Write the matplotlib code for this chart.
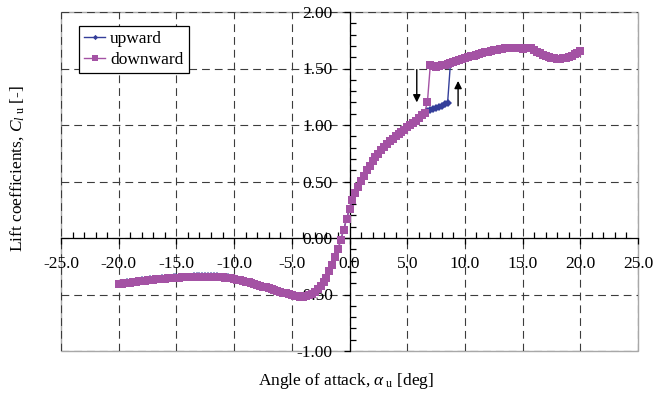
import matplotlib
matplotlib.use("Agg")
import matplotlib.pyplot as plt
from matplotlib.ticker import MultipleLocator, FuncFormatter
from matplotlib.patches import Rectangle

plt.rcParams['font.family'] = ['Liberation Serif', 'DejaVu Serif']
plt.rcParams['mathtext.fontset'] = 'custom'
plt.rcParams['mathtext.rm'] = 'Liberation Serif'
plt.rcParams['mathtext.it'] = 'Liberation Serif:italic'

# ---------------- data ----------------
alpha_lower = [
    -20.0, -19.75, -19.5, -19.25, -19.0, -18.75, -18.5, -18.25, -18.0, -17.75,
    -17.5, -17.25, -17.0, -16.75, -16.5, -16.25, -16.0, -15.75, -15.5, -15.25,
    -15.0, -14.75, -14.5, -14.25, -14.0, -13.75, -13.5, -13.25, -13.0, -12.75,
    -12.5, -12.25, -12.0, -11.75, -11.5, -11.25, -11.0, -10.75, -10.5, -10.25,
    -10.0, -9.75, -9.5, -9.25, -9.0, -8.75, -8.5, -8.25, -8.0, -7.75,
    -7.5, -7.25, -7.0, -6.75, -6.5, -6.25, -6.0, -5.75, -5.5, -5.25,
    -5.0, -4.75, -4.5, -4.25, -4.0, -3.75, -3.5, -3.25, -3.0, -2.75,
    -2.5, -2.25, -2.0, -1.75, -1.5, -1.25, -1.0, -0.75, -0.5, -0.25,
    0.0, 0.25, 0.5, 0.75, 1.0, 1.25, 1.5, 1.75, 2.0, 2.25,
    2.5, 2.75, 3.0, 3.25, 3.5, 3.75, 4.0, 4.25, 4.5, 4.75,
    5.0, 5.25, 5.5, 5.75, 6.0, 6.25, 6.5]

cl_lower_down = [
    -0.410, -0.406, -0.402, -0.398, -0.394, -0.391, -0.387, -0.384, -0.381, -0.378,
    -0.375, -0.372, -0.369, -0.367, -0.364, -0.362, -0.360, -0.358, -0.356, -0.354,
    -0.352, -0.351, -0.349, -0.348, -0.347, -0.346, -0.345, -0.344, -0.344, -0.343,
    -0.343, -0.343, -0.343, -0.344, -0.345, -0.346, -0.348, -0.350, -0.354, -0.358,
    -0.363, -0.368, -0.374, -0.380, -0.386, -0.393, -0.400, -0.407, -0.414, -0.422,
    -0.430, -0.438, -0.446, -0.454, -0.462, -0.470, -0.477, -0.484, -0.491, -0.498,
    -0.504, -0.510, -0.515, -0.518, -0.520, -0.517, -0.508, -0.494, -0.475, -0.452,
    -0.425, -0.392, -0.350, -0.295, -0.235, -0.170, -0.100, -0.015, 0.075, 0.170,
    0.260, 0.335, 0.400, 0.455, 0.505, 0.553, 0.598, 0.640, 0.678, 0.713,
    0.746, 0.776, 0.805, 0.831, 0.855, 0.878, 0.900, 0.921, 0.941, 0.960,
    0.979, 0.997, 1.018, 1.038, 1.060, 1.085, 1.110]

cl_lower_up = [
    -0.405, -0.401, -0.397, -0.393, -0.389, -0.386, -0.382, -0.379, -0.376, -0.373,
    -0.370, -0.367, -0.364, -0.362, -0.359, -0.357, -0.355, -0.353, -0.351, -0.349,
    -0.347, -0.346, -0.344, -0.343, -0.342, -0.341, -0.340, -0.339, -0.339, -0.338,
    -0.338, -0.338, -0.338, -0.339, -0.340, -0.341, -0.343, -0.345, -0.349, -0.353,
    -0.358, -0.364, -0.370, -0.377, -0.383, -0.390, -0.398, -0.406, -0.413, -0.421,
    -0.429, -0.437, -0.445, -0.453, -0.461, -0.469, -0.477, -0.484, -0.491, -0.498,
    -0.504, -0.510, -0.515, -0.518, -0.520, -0.517, -0.508, -0.494, -0.475, -0.452,
    -0.425, -0.392, -0.350, -0.295, -0.235, -0.170, -0.100, -0.015, 0.075, 0.170,
    0.260, 0.335, 0.400, 0.455, 0.505, 0.553, 0.598, 0.640, 0.678, 0.713,
    0.746, 0.776, 0.805, 0.831, 0.855, 0.878, 0.900, 0.921, 0.941, 0.960,
    0.979, 0.997, 1.018, 1.038, 1.060, 1.085, 1.110]

# upward: attached-flow branch kept beyond stall onset
alpha_up_branch = [6.75, 7.0, 7.25, 7.5, 7.75, 8.0, 8.25, 8.5]
cl_up_branch = [1.120, 1.130, 1.140, 1.150, 1.160, 1.170, 1.182, 1.195]

# downward: transition point before re-attachment
alpha_down_transition = [6.75]
cl_down_transition = [1.200]

# upper (post-jump) branch
alpha_upper = [
    7.0, 7.25, 7.5, 7.75, 8.0, 8.25, 8.5, 8.75, 9.0, 9.25,
    9.5, 9.75, 10.0, 10.25, 10.5, 10.75, 11.0, 11.25, 11.5, 11.75,
    12.0, 12.25, 12.5, 12.75, 13.0, 13.25, 13.5, 13.75, 14.0, 14.25,
    14.5, 14.75, 15.0, 15.25, 15.5, 15.75, 16.0, 16.25, 16.5, 16.75,
    17.0, 17.25, 17.5, 17.75, 18.0, 18.25, 18.5, 18.75, 19.0, 19.25,
    19.5, 19.75, 20.0]
cl_upper = [
    1.527, 1.518, 1.516, 1.520, 1.527, 1.535, 1.543, 1.551, 1.559, 1.567,
    1.575, 1.583, 1.591, 1.599, 1.607, 1.615, 1.623, 1.630, 1.637, 1.644,
    1.650, 1.656, 1.661, 1.666, 1.670, 1.674, 1.677, 1.679, 1.680, 1.680,
    1.679, 1.677, 1.676, 1.681, 1.685, 1.678, 1.665, 1.650, 1.635, 1.621,
    1.610, 1.601, 1.594, 1.590, 1.588, 1.588, 1.590, 1.595, 1.602, 1.612,
    1.625, 1.640, 1.655]

series_labels = ['upward', 'downward']
x_label = r'Angle of attack, $\alpha_{\ \mathrm{u}}$ [deg]'
y_label = r'Lift coefficients, $C_{l\ \mathrm{u}}$ [-]'

# assemble series
n_skip = alpha_upper.index(8.75)
alpha_up = alpha_lower + alpha_up_branch + alpha_upper[n_skip:]
cl_up = cl_lower_up + cl_up_branch + cl_upper[n_skip:]
alpha_down = alpha_lower + alpha_down_transition + alpha_upper
cl_down = cl_lower_down + cl_down_transition + cl_upper

# ---------------- figure ----------------
W, H = 666, 397
fig = plt.figure(figsize=(W / 100, H / 100), dpi=100)
fig.patch.set_facecolor('white')
ax = fig.add_axes([61 / W, 46 / H, 577 / W, 339 / H])
ax.set_xlim(-25, 25)
ax.set_ylim(-1.0, 2.0)

blue = '#343E9A'
purple = '#A452A4'

ax.plot(alpha_up, cl_up, color=blue, lw=1.0, marker='D', ms=3.6, mew=0,
        zorder=3, label=series_labels[0])
ax.plot(alpha_down, cl_down, color=purple, lw=1.0, marker='s', ms=5.4, mew=0,
        zorder=4, label=series_labels[1])

# axes crossing at zero (Excel style)
for s in ['top', 'right']:
    ax.spines[s].set_visible(False)
ax.spines['left'].set_position(('data', 0))
ax.spines['bottom'].set_position(('data', 0))
ax.spines['left'].set_linewidth(0.9)
ax.spines['bottom'].set_linewidth(0.9)
ax.spines['left'].set_zorder(2.5)
ax.spines['bottom'].set_zorder(2.5)

# light grey plot-area frame
ax.add_patch(Rectangle((0, 0), 1, 1, transform=ax.transAxes, fill=False,
                       ec='#A8A8A8', lw=1.0, clip_on=False, zorder=0.5))

ax.xaxis.set_major_locator(MultipleLocator(5))
ax.xaxis.set_minor_locator(MultipleLocator(1))
ax.yaxis.set_major_locator(MultipleLocator(0.5))
ax.yaxis.set_minor_locator(MultipleLocator(0.1))


def fx(v, p):
    s = f'{v:.1f}'
    return '0.0' if s == '-0.0' else s


def fy(v, p):
    s = f'{v:.2f}'
    return '0.00' if s == '-0.00' else s


ax.xaxis.set_major_formatter(FuncFormatter(fx))
ax.yaxis.set_major_formatter(FuncFormatter(fy))

ax.tick_params(which='major', direction='out', length=4, width=0.9,
               labelsize=12.5, color='black')
ax.tick_params(axis='x', which='major', pad=9)
ax.tick_params(axis='y', which='major', pad=8)
ax.tick_params(which='minor', direction='in', length=4, width=0.9, color='black')

ax.grid(which='major', color='#3C3C3C', lw=0.8, linestyle=(0, (7, 4.5)), zorder=1)
ax.set_axisbelow(True)

# hysteresis arrows
ax.annotate('', xy=(5.83, 1.20), xytext=(5.83, 1.49),
            arrowprops=dict(arrowstyle='-|>', color='black', lw=1.0,
                            mutation_scale=11, shrinkA=0, shrinkB=0), zorder=5)
ax.annotate('', xy=(9.41, 1.39), xytext=(9.41, 1.17),
            arrowprops=dict(arrowstyle='-|>', color='black', lw=1.0,
                            mutation_scale=11, shrinkA=0, shrinkB=0), zorder=5)

leg = ax.legend(loc='upper left', bbox_to_anchor=(0.031, 0.959),
                borderaxespad=0, fontsize=12.5, frameon=True, fancybox=False,
                edgecolor='black', framealpha=1, handlelength=1.2,
                handletextpad=0.3, labelspacing=0.25, borderpad=0.3,
                markerscale=0.75)
leg.get_frame().set_linewidth(0.9)
leg.set_zorder(6)

fig.text(346 / W, 1 - 381 / H, x_label, ha='center', va='center', fontsize=12.5)
fig.text(17 / W, 1 - 169 / H, y_label, ha='center', va='center',
         rotation=90, fontsize=12.5)

fig.savefig('out.png', dpi=100, facecolor='white')
